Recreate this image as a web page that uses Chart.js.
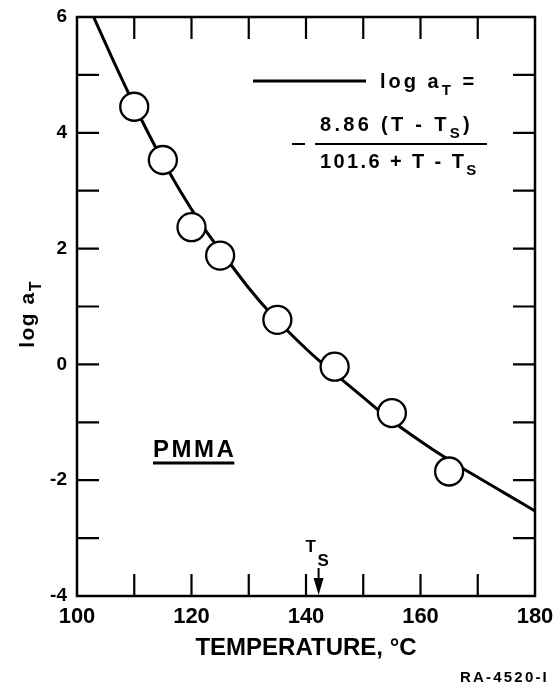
<!DOCTYPE html>
<html>
<head>
<meta charset="utf-8">
<script src="https://cdn.jsdelivr.net/npm/chart.js@4.4.1/dist/chart.umd.min.js"></script>
<style>
  html, body { margin: 0; padding: 0; background: #fff; }
  #caja { width: 556px; height: 684px; position: relative; }
</style>
</head>
<body>
<div id="caja"><canvas id="grafica"></canvas></div>
<script>
// Puntos medidos (circulos)
const tempPuntos = [110, 115, 120, 125, 135, 145, 155, 165];
const logAtPuntos = [4.45, 3.53, 2.37, 1.88, 0.77, -0.04, -0.84, -1.85];

// Curva WLF
const tempCurva = [102.9, 106, 110, 114, 118, 122, 126, 130, 134, 138, 142, 146, 150, 154, 158, 162, 166, 170, 175, 180];
const logAtCurva = [6.0, 5.32, 4.48, 3.70, 3.00, 2.38, 1.84, 1.32, 0.86, 0.46, 0.09, -0.24, -0.57, -0.90, -1.19, -1.46, -1.71, -1.95, -2.24, -2.53];

// Etiquetas y marcas de los ejes
const etiquetasX = [100, 120, 140, 160, 180];
const etiquetasY = [-4, -2, 0, 2, 4, 6];
const marcasX = [110, 120, 130, 140, 150, 160, 170];
const marcasY = [-3, -2, -1, 0, 1, 2, 3, 4, 5];
const tempTs = 142.2;

const FUENTE = '"Liberation Sans", Arial, sans-serif';

// escribe texto con subindices: partes = [{t:'log a'}, {t:'T', sub:true}]
function textoRico(ctx, partes, x, y, tam, espacio) {
    ctx.letterSpacing = espacio + 'px';
    let cx = x;
    partes.forEach(p => {
        const t = p.sub ? tam * 0.75 : tam;
        ctx.font = 'bold ' + t + 'px ' + FUENTE;
        ctx.fillText(p.t, cx, p.sub ? y + tam * 0.35 : y);
        cx += ctx.measureText(p.t).width;
    });
    ctx.letterSpacing = '0px';
    return cx - x;
}

function anchoRico(ctx, partes, tam, espacio) {
    ctx.letterSpacing = espacio + 'px';
    let w = 0;
    partes.forEach(p => {
        const t = p.sub ? tam * 0.75 : tam;
        ctx.font = 'bold ' + t + 'px ' + FUENTE;
        w += ctx.measureText(p.t).width;
    });
    ctx.letterSpacing = '0px';
    return w;
}

// --- Marco, marcas hacia dentro y rotulos ---
const marcoPlugin = {
    id: 'marco',
    afterDraw(chart) {
        const ctx = chart.ctx;
        const a = chart.chartArea;
        const sx = chart.scales.x, sy = chart.scales.y;
        ctx.save();
        ctx.strokeStyle = '#000';
        ctx.fillStyle = '#000';
        ctx.lineWidth = 2.5;
        ctx.strokeRect(a.left, a.top, a.right - a.left, a.bottom - a.top);

        const largo = 22;
        ctx.lineWidth = 2.2;
        ctx.beginPath();
        marcasX.forEach(v => {
            const px = sx.getPixelForValue(v);
            ctx.moveTo(px, a.bottom); ctx.lineTo(px, a.bottom - largo);
            ctx.moveTo(px, a.top); ctx.lineTo(px, a.top + largo);
        });
        marcasY.forEach(v => {
            const py = sy.getPixelForValue(v);
            ctx.moveTo(a.left, py); ctx.lineTo(a.left + largo, py);
            ctx.moveTo(a.right, py); ctx.lineTo(a.right - largo, py);
        });
        ctx.stroke();

        // titulo del eje y: log aT
        ctx.save();
        ctx.translate(34, 314);
        ctx.rotate(-Math.PI / 2);
        ctx.textBaseline = 'alphabetic';
        const tituloY = [{t: 'log a'}, {t: 'T', sub: true}];
        const wy = anchoRico(ctx, tituloY, 21, 1.5);
        textoRico(ctx, tituloY, -wy / 2, 0, 21, 1.5);
        ctx.restore();

        // leyenda con la ecuacion
        ctx.textBaseline = 'alphabetic';
        ctx.lineWidth = 3;
        ctx.beginPath();
        ctx.moveTo(253, 81); ctx.lineTo(366, 81);
        ctx.stroke();
        textoRico(ctx, [{t: 'log a'}, {t: 'T', sub: true}, {t: ' ='}], 380, 88, 20, 3);
        textoRico(ctx, [{t: '8.86 (T - T'}, {t: 'S', sub: true}, {t: ')'}], 320, 131, 20, 3.3);
        ctx.lineWidth = 2;
        ctx.beginPath();
        ctx.moveTo(315, 144); ctx.lineTo(487, 144);
        ctx.moveTo(292, 144); ctx.lineTo(305, 144);
        ctx.stroke();
        textoRico(ctx, [{t: '101.6 + T - T'}, {t: 'S', sub: true}], 320, 168, 20, 2.4);

        // PMMA subrayado
        const wp = textoRico(ctx, [{t: 'PMMA'}], 153, 457, 24, 2.5);
        ctx.lineWidth = 3;
        ctx.beginPath();
        ctx.moveTo(153, 463); ctx.lineTo(153 + wp - 2, 463);
        ctx.stroke();

        // Ts con flecha
        const xTs = sx.getPixelForValue(tempTs);
        ctx.font = 'bold 17px ' + FUENTE;
        ctx.fillText('T', xTs - 13, 552);
        ctx.fillText('S', xTs - 1, 566);
        ctx.lineWidth = 2;
        ctx.beginPath();
        ctx.moveTo(xTs, 568); ctx.lineTo(xTs, a.bottom - 10);
        ctx.stroke();
        ctx.beginPath();
        ctx.moveTo(xTs - 5, a.bottom - 18);
        ctx.lineTo(xTs + 5, a.bottom - 18);
        ctx.lineTo(xTs, a.bottom - 1);
        ctx.closePath();
        ctx.fill();

        // referencia
        textoRico(ctx, [{t: 'RA-4520-I'}], 460, 682, 15, 2.2);
        ctx.restore();
    }
};

const ctx = document.getElementById('grafica').getContext('2d');
const grafica = new Chart(ctx, {
    type: 'scatter',
    data: {
        datasets: [{
            label: 'medidos',
            data: tempPuntos.map((t, i) => ({x: t, y: logAtPuntos[i]})),
            pointRadius: 14,
            pointHoverRadius: 14,
            pointBackgroundColor: '#fff',
            pointBorderColor: '#000',
            pointBorderWidth: 2.3,
            showLine: false,
            order: 0
        }, {
            label: 'WLF',
            data: tempCurva.map((t, i) => ({x: t, y: logAtCurva[i]})),
            showLine: true,
            borderColor: '#000',
            borderWidth: 3,
            pointRadius: 0,
            cubicInterpolationMode: 'monotone',
            order: 1
        }]
    },
    options: {
        responsive: true,
        maintainAspectRatio: false,
        animation: false,
        layout: { padding: { top: 17, right: 21, left: 0, bottom: 0 } },
        plugins: { legend: { display: false }, tooltip: { enabled: false } },
        scales: {
            x: {
                type: 'linear', min: 100, max: 180,
                afterBuildTicks: s => { s.ticks = etiquetasX.map(v => ({value: v})); },
                afterFit: s => { s.height = 88; s.paddingLeft = 0; s.paddingRight = 0; },
                grid: { display: false, drawTicks: false },
                border: { display: false },
                ticks: { color: '#000', font: { family: FUENTE, size: 22, weight: 'bold' }, padding: 8, maxRotation: 0, autoSkip: false },
                title: { display: true, text: 'TEMPERATURE, °C', color: '#000', font: { family: FUENTE, size: 24, weight: 'bold' }, padding: { top: 0, bottom: 21 } }
            },
            y: {
                min: -4, max: 6,
                afterBuildTicks: s => { s.ticks = etiquetasY.map(v => ({value: v})); },
                afterFit: s => { s.width = 77; s.paddingTop = 0; s.paddingBottom = 0; },
                grid: { display: false, drawTicks: false },
                border: { display: false },
                ticks: { color: '#000', font: { family: FUENTE, size: 19, weight: 'bold' }, padding: 10 }
            }
        }
    },
    plugins: [marcoPlugin]
});
</script>
</body>
</html>
